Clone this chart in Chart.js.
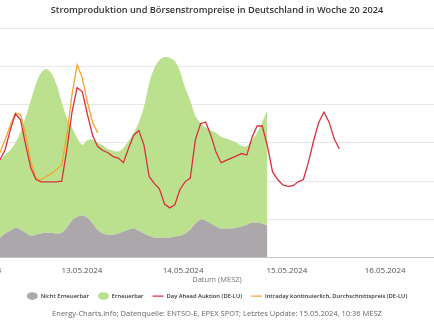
<!DOCTYPE html>
<html>
<head>
<meta charset="utf-8">
<script src="https://cdn.jsdelivr.net/npm/chart.js@4.4.1/dist/chart.umd.min.js"></script>
<style>
  html, body { margin: 0; padding: 0; background: #fff; overflow: hidden; }
  #wrap { width: 434px; height: 326px; position: relative; }
</style>
</head>
<body>
<div id="wrap"><canvas id="graph1"></canvas></div>
<script>
// hours since left edge of the visible plot
const hours = []
for (let h = 0; h <= 66; h++) hours.push(h)

// tick labels and the hour value where each label sits
const tickLabels = ['12.05.2024', '13.05.2024', '14.05.2024', '15.05.2024', '16.05.2024']
const tickHours = [-3.7, 15.95, 35.6, 55.8, 74.9]

// GW
const nichtErneuerbar = [5.2, 6.3, 7.0, 7.8, 7.3, 6.5, 5.7, 6.0, 6.3, 6.5, 6.5, 6.3, 6.5, 7.8, 9.7, 10.7, 11.0, 10.4, 8.9, 7.3,
  6.3, 6.0, 6.0, 6.3, 6.8, 7.3, 7.6, 7.0, 6.3, 5.7, 5.2, 5.2, 5.2, 5.2, 5.5, 5.7, 6.3, 7.3, 8.9, 9.9,
  9.7, 8.9, 8.1, 7.6, 7.6, 7.6, 7.8, 8.1, 8.6, 9.1, 9.1, 8.9, 8.3]
const erneuerbar = [20.3, 20.6, 21.1, 22.2, 25.6, 30.3, 35.5, 39.4, 42.0, 42.8, 41.7, 38.9, 34.2, 28.7, 24.3, 20.6, 18.5, 20.3, 21.9, 22.7,
  23.0, 22.4, 21.9, 21.4, 21.9, 23.2, 25.0, 28.4, 33.1, 39.9, 44.3, 46.4, 47.2, 47.0, 45.9, 43.0, 38.1, 33.7, 28.2, 25.3,
  24.3, 24.3, 24.5, 24.0, 23.5, 23.0, 22.2, 21.1, 20.6, 21.7, 23.5, 26.6, 30.3]

// EUR/MWh
const dayAhead = [28, 41, 67, 88, 80, 47, 17, 2, -1, -1, -1, -1, 0, 41, 90, 122, 117, 87, 60, 45,
  40, 37, 32, 30, 24, 43, 60, 66, 47, 6, -3, -10, -30, -35, -31, -11, -1, 4, 54, 75,
  77, 60, 38, 24, 27, 30, 33, 36, 34, 57, 72, 72, 46, 12, 2, -5, -7, -6, -1, 2,
  25, 53, 77, 90, 77, 55, 42]
const intraday = [37, 54, 73, 89, 87, 60, 25, 4, 2, 6, 10, 15, 21, 60, 113, 152, 135, 103, 77, 63]

const pts = (vals) => vals.map((v, i) => ({ x: hours[i], y: v }))

const ctx = document.getElementById('graph1')

new Chart(ctx, {
  type: 'line',
  data: {
    datasets: [
      {
        label: 'Nicht Erneuerbar',
        data: pts(nichtErneuerbar),
        yAxisID: 'y',
        backgroundColor: '#aca7aa',
        borderColor: '#aca7aa',
        borderWidth: 0,
        fill: 'origin',
        tension: 0.35,
        pointRadius: 0,
        pointStyle: 'circle',
        order: 2
      },
      {
        label: 'Erneuerbar',
        data: pts(erneuerbar),
        yAxisID: 'y',
        backgroundColor: '#bbe18f',
        borderColor: '#bbe18f',
        borderWidth: 0,
        fill: '-1',
        tension: 0.35,
        pointRadius: 0,
        pointStyle: 'circle',
        order: 3
      },
      {
        label: 'Day Ahead Auktion (DE-LU)',
        data: pts(dayAhead),
        yAxisID: 'y1',
        borderColor: '#dc2f3c',
        backgroundColor: '#dc2f3c',
        borderWidth: 1.3,
        fill: false,
        tension: 0,
        pointRadius: 0,
        pointStyle: 'line',
        order: 0
      },
      {
        label: 'Intraday kontinuierlich, Durchschnittspreis (DE-LU)',
        data: pts(intraday),
        yAxisID: 'y1',
        borderColor: '#f6a52c',
        backgroundColor: '#f6a52c',
        borderWidth: 1.3,
        fill: false,
        tension: 0,
        pointRadius: 0,
        pointStyle: 'line',
        order: 1
      }
    ]
  },
  options: {
    responsive: true,
    maintainAspectRatio: false,
    animation: false,
    layout: { padding: 0 },
    scales: {
      x: {
        type: 'linear',
        min: 0,
        max: 84.4,
        grid: { display: false },
        border: { color: '#c8c8c8' },
        afterBuildTicks: (scale) => {
          scale.ticks = tickHours.map(v => ({ value: v }))
        },
        afterFit: (scale) => {
          scale.paddingLeft = 0
          scale.paddingRight = 0
        },
        ticks: {
          autoSkip: false,
          maxRotation: 0,
          padding: 0,
          color: '#555',
          font: { family: 'Open Sans', size: 8 },
          callback: (v, i) => tickLabels[i]
        },
        title: {
          display: true,
          text: 'Datum (MESZ)',
          color: '#777',
          font: { family: 'Open Sans', size: 7.5 },
          padding: { top: 0, bottom: 0 }
        }
      },
      y: {
        stacked: true,
        min: 0,
        max: 60,
        ticks: { display: false, stepSize: 10 },
        grid: { color: '#e8e8e8', drawTicks: false },
        border: { display: false }
      },
      y1: {
        display: false,
        min: -100,
        max: 200
      }
    },
    plugins: {
      tooltip: { enabled: false },
      title: {
        display: true,
        text: 'Stromproduktion und Börsenstrompreise in Deutschland in Woche 20 2024',
        color: '#333',
        font: { family: 'Open Sans', size: 9.2, weight: '600' },
        padding: { top: 5, bottom: 12 }
      },
      legend: {
        position: 'bottom',
        labels: {
          usePointStyle: true,
          boxWidth: 5.5,
          boxHeight: 5.5,
          pointStyleWidth: 11,
          padding: 9,
          color: '#333',
          font: { family: 'Open Sans', size: 5.8, weight: '600' },
          sort: (a, b) => a.datasetIndex - b.datasetIndex
        }
      },
      subtitle: {
        display: true,
        position: 'bottom',
        text: 'Energy-Charts.info; Datenquelle: ENTSO-E, EPEX SPOT; Letztes Update: 15.05.2024, 10:36 MESZ',
        color: '#666',
        font: { family: 'Open Sans', size: 7.5 },
        padding: { top: 0, bottom: 8 }
      }
    }
  }
})
</script>
</body>
</html>
